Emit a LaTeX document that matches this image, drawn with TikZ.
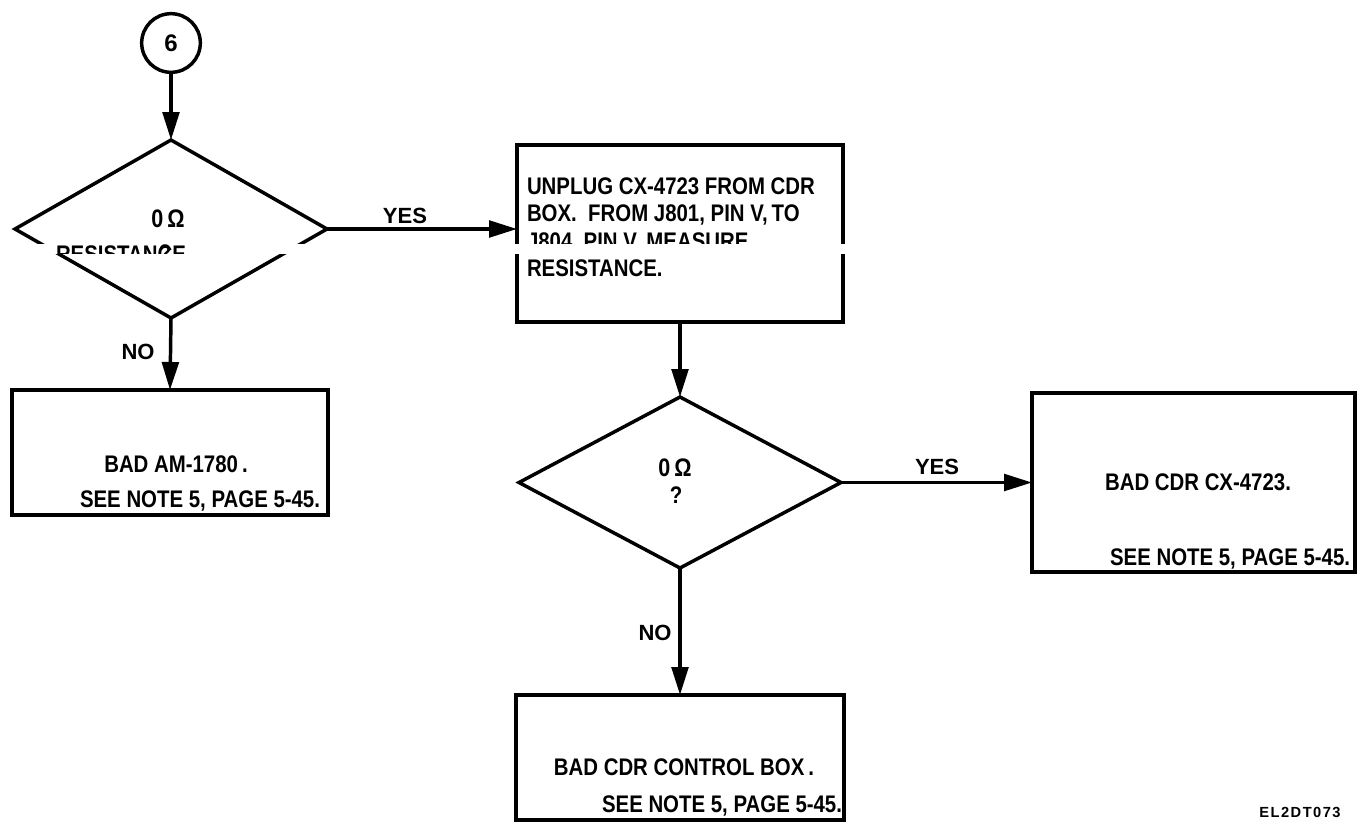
\documentclass[tikz,border=0pt]{standalone}
\usepackage{fontspec}
\setmainfont{Liberation Sans}
\newfontfamily\condf{Liberation Sans}[FakeStretch=0.85]
\usetikzlibrary{shapes.geometric,arrows.meta}
\begin{document}
\begin{tikzpicture}[x=0.75pt,y=-0.75pt,
  every node/.style={inner sep=0pt, outer sep=0pt},
  ln/.style={line width=2.6pt},
  arr/.style={ln, -{Triangle[length=21pt,width=12.5pt]}},
  txt/.style={font=\condf\bfseries\fontsize{18}{21}\selectfont},
  omega/.style={font=\condf\bfseries\fontsize{19}{22}\selectfont},
  lab/.style={font=\bfseries\fontsize{16.5}{19}\selectfont},
  small/.style={font=\bfseries\fontsize{11}{13}\selectfont\addfontfeature{LetterSpace=10}},
  box/.style={draw, ln, rectangle},
  dia/.style={draw, ln, diamond},
]
\useasboundingbox (0,0) rectangle (1358,824);

% shapes
\node[draw, ln, circle, minimum size=44pt] (c6) at (171,43) {};
\node[lab, font=\bfseries\fontsize{18}{20}\selectfont] (c6t) at (171,43) {6};
\node[dia, minimum width=234pt, minimum height=133.5pt] (d1) at (171,229) {};
\node[box, minimum width=244.5pt, minimum height=132.75pt] (b1) at (680,233.5) {};
\node[box, minimum width=237pt, minimum height=93.75pt] (b2) at (170,452.5) {};
\node[dia, minimum width=241.5pt, minimum height=128.25pt] (d2) at (680,482.5) {};
\node[box, minimum width=242.25pt, minimum height=134.25pt] (b3) at (1193.5,482.5) {};
\node[box, minimum width=246pt, minimum height=93.75pt] (b4) at (680,757.5) {};

% connectors
\draw[arr] (c6) -- (d1.north);
\draw[arr] (d1.east) -- (d1.east -| b1.west);
\draw[arr] (d1.south) -- (b2.north);
\draw[arr] (b1.south) -- (d2.north);
\draw[arr] (d2.east) -- (d2.east -| b3.west);
\draw[arr] (d2.south) -- (b4.north);

% labels
\node[lab, anchor=base] (yes1) at (405,223) {YES};
\node[lab, anchor=base] (no1) at (138,359) {NO};
\node[lab, anchor=base] (yes2) at (937,474) {YES};
\node[lab, anchor=base] (no2) at (655,640) {NO};

% texts
\node[omega, anchor=base] (d1a) at (168,227) {0\,Ω};
\node[txt, anchor=base west] (b1l1) at (527,194) {UNPLUG CX-4723 FROM CDR};
\node[txt, anchor=base west] (b1l2) at (527,221) {BOX.\ \ FROM J801, PIN V,\,TO};
\node[txt, anchor=base west] (b1l3) at (527,249) {J804, PIN V, MEASURE};
\node[txt, anchor=base west] (b1l4) at (527,276) {RESISTANCE.};
\node[txt, anchor=base] (b2a) at (176,472) {BAD AM-1780\,.};
\node[txt, anchor=base east] (b2b) at (320,507) {SEE NOTE 5, PAGE 5-45.};
\node[omega, anchor=base] (d2a) at (675,476) {0\,Ω};
\node[txt, anchor=base] (d2b) at (676,503) {?};
\node[txt, anchor=base] (b3a) at (1198,490) {BAD CDR CX-4723.};
\node[txt, anchor=base east] (b3b) at (1350,565) {SEE NOTE 5, PAGE 5-45.};
\node[txt, anchor=base] (b4a) at (684,775) {BAD CDR CONTROL BOX\,.};
\node[txt, anchor=base east] (b4b) at (842,812) {SEE NOTE 5, PAGE 5-45.};
\node[small, anchor=base] (code) at (1300,817) {EL2DT073};

% scan strip (white band with shifted content)
\fill[white] (38,244) rectangle (852,254);
\begin{scope}
  \clip (38,244) rectangle (852,253);
  \node[txt, anchor=base west] (res) at (56,262) {RESISTANCE};
  \node[txt, anchor=base] (q1) at (165,261) {?};
\end{scope}
\end{tikzpicture}
\end{document}
